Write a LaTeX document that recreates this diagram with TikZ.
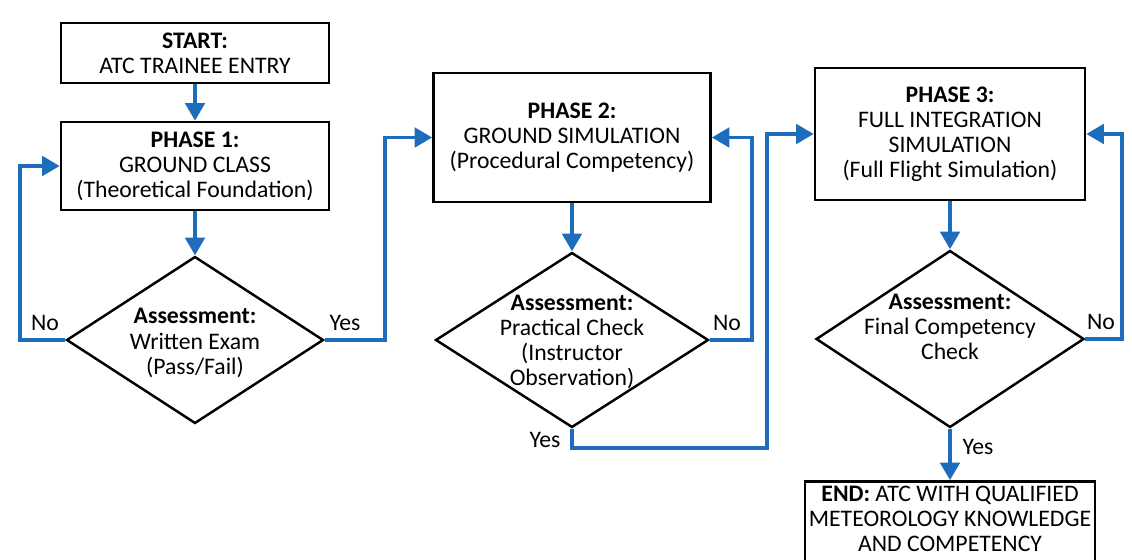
\documentclass[tikz,border=0pt]{standalone}
\usepackage{fontspec}
\setmainfont{Carlito}
\usetikzlibrary{shapes.geometric,arrows.meta}
\definecolor{azul}{RGB}{30,108,188}
\tikzset{
  letra/.style={font=\fontsize{13.5}{14.3}\selectfont},
  caja/.style={letra,draw=black,line width=1.5pt,fill=white,align=center,inner sep=2pt},
  rombo/.style={draw=black,line width=1.4pt,diamond,inner sep=0pt},
  flecha/.style={azul,line width=2.2pt,line join=miter,-{Triangle[width=11pt,length=10pt]}},
}
\begin{document}
\begin{tikzpicture}[x=0.02cm,y=-0.02cm]
		\useasboundingbox (0,0) rectangle (1132,560);
		%%%% CAJAS
		\node[caja,minimum width=5.36cm,minimum height=1.2cm] at (195,53) (inicio) {\textbf{START:}\\ATC TRAINEE ENTRY};
		\node[caja,minimum width=5.36cm,minimum height=1.76cm] at (195,166) (fase1) {\textbf{PHASE 1:}\\GROUND CLASS\\(Theoretical Foundation)};
		\node[caja,minimum width=5.54cm,minimum height=2.58cm] at (572,137.5) (fase2) {\textbf{PHASE 2:}\\GROUND SIMULATION\\(Procedural Competency)};
		\node[caja,minimum width=5.4cm,minimum height=2.64cm] at (950,134) (fase3) {\textbf{PHASE 3:}\\FULL INTEGRATION\\SIMULATION\\(Full Flight Simulation)};
		\node[caja,minimum width=5.8cm,minimum height=1.7cm] at (950,524) (fin) {};
		\node[letra,align=center] at (950,519) (txtfin) {\textbf{END:} ATC WITH QUALIFIED\\METEOROLOGY KNOWLEDGE\\AND COMPETENCY};
		%%%% ROMBOS
		\node[rombo,minimum width=5.14cm,minimum height=3.34cm] at (195,340) (eval1) {};
		\node[rombo,minimum width=5.46cm,minimum height=3.5cm] at (572,340) (eval2) {};
		\node[rombo,minimum width=5.36cm,minimum height=3.54cm] at (950,339) (eval3) {};
		\node[letra,align=center] at (195,343) (txt1) {\textbf{Assessment:}\\Written Exam\\(Pass/Fail)};
		\node[letra,align=center] at (572,342) (txt2) {\textbf{Assessment:}\\Practical Check\\(Instructor\\Observation)};
		\node[letra,align=center] at (950,327) (txt3) {\textbf{Assessment:}\\Final Competency\\Check};
		%%%% FLECHAS
		\draw[flecha] (inicio) -- (fase1);
		\draw[flecha] (fase1) -- (eval1);
		\draw[flecha] (eval1.west) -- ++(-45,0) |- (fase1.west);
		\draw[flecha] (eval1.east) -- ++(60,0) |- (fase2.west);
		\draw[flecha] (fase2) -- (eval2);
		\draw[flecha] (eval2.east) -- ++(42,0) |- (fase2.east);
		\coordinate (codo) at (767,448);
		\draw[flecha] (eval2.south) |- (codo) |- (fase3.west);
		\draw[flecha] (fase3) -- (eval3);
		\draw[flecha] (eval3.east) -- ++(37,0) |- (fase3.east);
		\draw[flecha] (eval3) -- (fin);
		%%%% SI / NO
		\node[letra] at (45,323) (no1) {No};
		\node[letra] at (345,323) (si1) {Yes};
		\node[letra] at (727,323) (no2) {No};
		\node[letra] at (545,440) (si2) {Yes};
		\node[letra] at (1101,322) (no3) {No};
		\node[letra] at (978,447) (si3) {Yes};
\end{tikzpicture}
\end{document}
